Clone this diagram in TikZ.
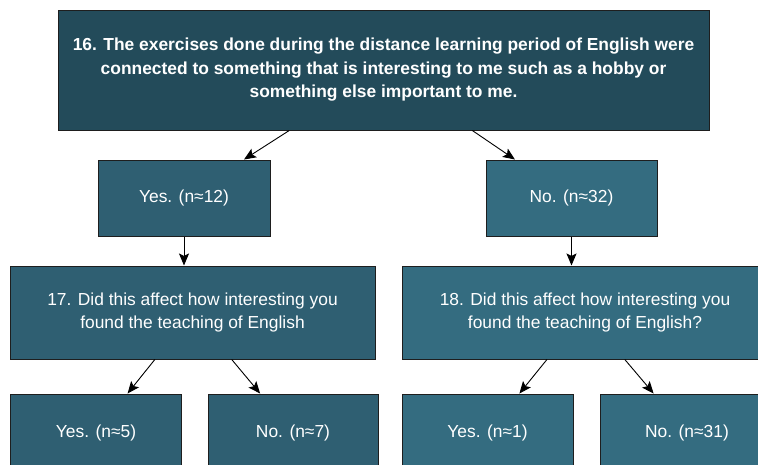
\documentclass[tikz,border=0pt]{standalone}
\usepackage{fontspec}
\setmainfont{Liberation Sans}
\usetikzlibrary{arrows.meta}
\definecolor{ctop}{HTML}{234B5A}
\definecolor{cyesA}{HTML}{2F5F72}
\definecolor{cnoA}{HTML}{346C80}
\definecolor{cbord}{HTML}{1E1E1E}
\tikzset{
  box/.style={draw=cbord, line width=1pt, text=white, align=center, inner sep=0pt,
    font=\fontsize{17.4}{23.5}\selectfont},
  arr/.style={-{Stealth[length=12pt,width=10pt,inset=2.5pt]}, line width=0.9pt, black},
}
\begin{document}
\begin{tikzpicture}[x=1pt,y=-1pt]
\useasboundingbox (0,0) rectangle (758,464);
\fill[white] (0,0) rectangle (758,464);
\clip (0,0) rectangle (758,464);
\node[box, fill=ctop, minimum width=651pt, minimum height=120pt, font=\bfseries\fontsize{17.4}{23.5}\selectfont] (top) at (383.5,70)
  {16. The exercises done during the distance learning period of English were\\connected to something that is interesting to me such as a hobby or\\something else important to me.};
\node[box, fill=cyesA, minimum width=172pt, minimum height=76pt] (yes) at (184,198) {Yes. (n≈12)};
\node[box, fill=cnoA, minimum width=171pt, minimum height=76pt] (no) at (571.5,198) {No. (n≈32)};
\node[box, fill=cyesA, minimum width=365pt, minimum height=93pt] (q17) at (192.5,312.5)
  {17. Did this affect how interesting you\\found the teaching of English};
\node[box, fill=cnoA, minimum width=366pt, minimum height=93pt] (q18) at (585,312.5)
  {18. Did this affect how interesting you\\found the teaching of English?};
\node[box, fill=cyesA, minimum width=171pt, minimum height=78pt] (y5) at (96,433) {Yes. (n≈5)};
\node[box, fill=cyesA, minimum width=170pt, minimum height=78pt] (n7) at (293,433) {No. (n≈7)};
\node[box, fill=cnoA, minimum width=171pt, minimum height=78pt] (y1) at (487.5,433) {Yes. (n≈1)};
\node[box, fill=cnoA, minimum width=174pt, minimum height=78pt] (n31) at (687,433) {No. (n≈31)};
\draw[arr] (top) -- (yes);
\draw[arr] (top) -- (no);
\draw[arr] (yes.south) -- (yes.south |- q17.north);
\draw[arr] (no.south) -- (no.south |- q18.north);
\draw[arr] (q17) -- (y5);
\draw[arr] (q17) -- (n7);
\draw[arr] (q18) -- (y1);
\draw[arr] (q18) -- (n31);
\end{tikzpicture}
\end{document}
